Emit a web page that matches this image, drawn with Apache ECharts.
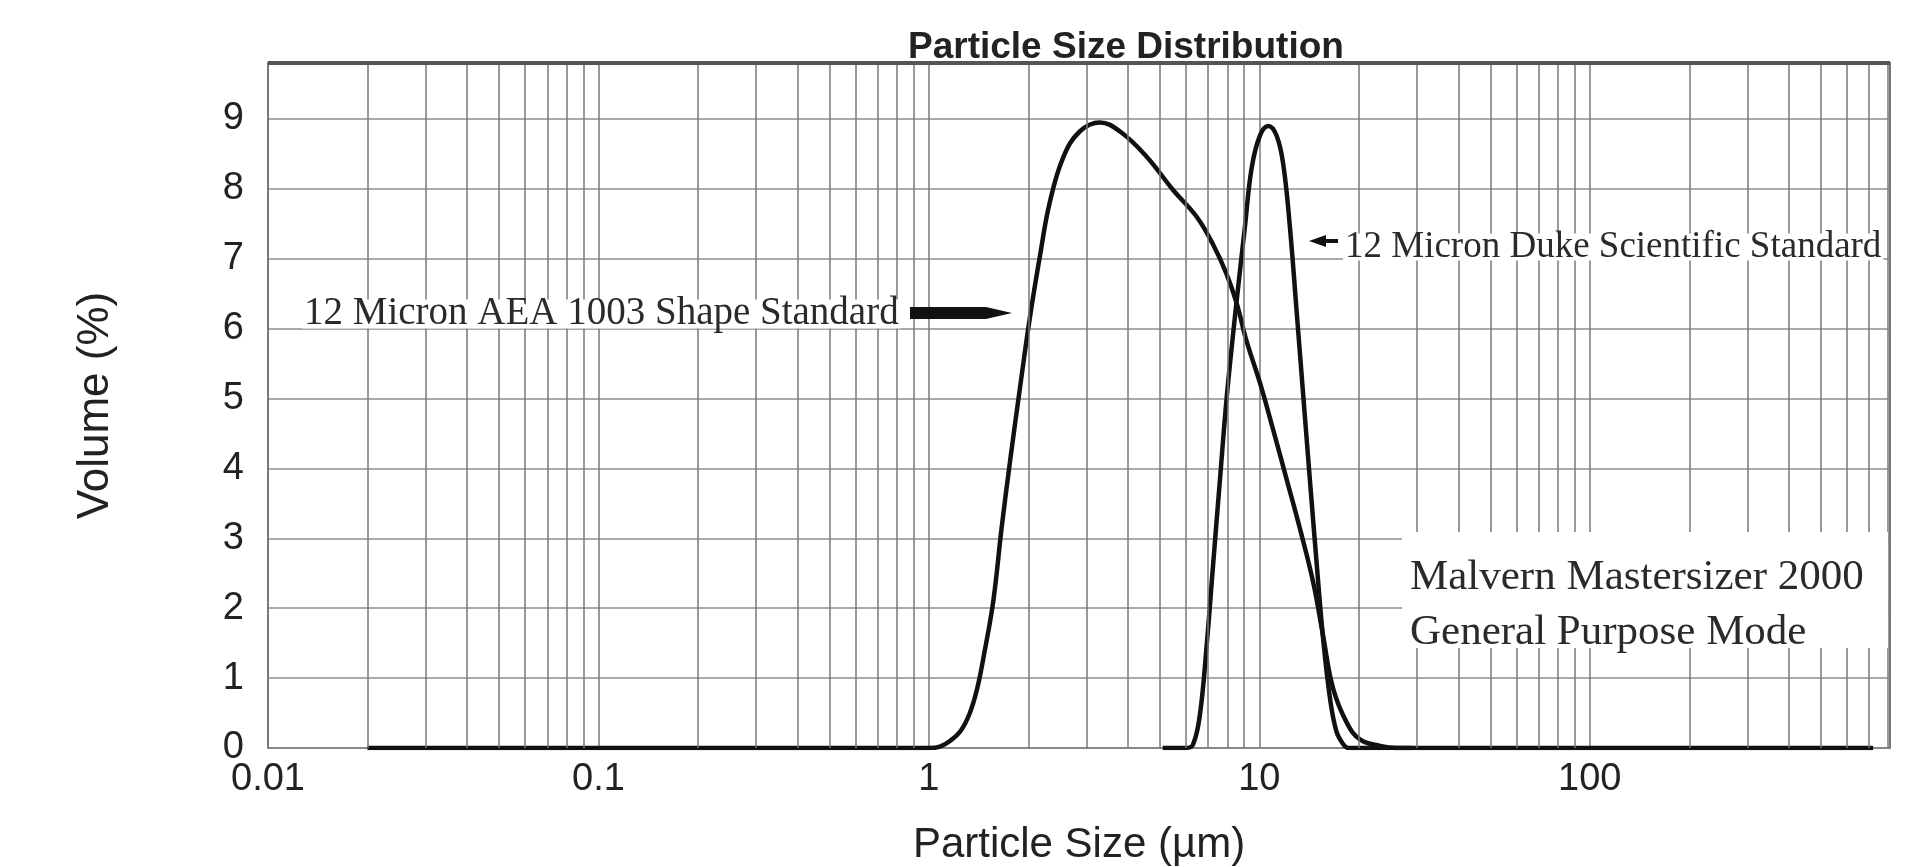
<!DOCTYPE html>
<html>
<head>
<meta charset="utf-8">
<title>Particle Size Distribution</title>
<style>
    html, body { margin: 0; padding: 0; background: #fff; }
    #main { width: 1921px; height: 867px; }
</style>
</head>
<body>
<div id="main"></div>
<script src="https://cdn.jsdelivr.net/npm/echarts@6/dist/echarts.min.js"></script>
<script type="text/javascript">
    // 12 Micron AEA 1003 Shape Standard : size (µm) / volume (%)
    var aeaSize = [0.02, 1.0, 1.08, 1.158, 1.25, 1.33, 1.40, 1.47, 1.566, 1.66, 1.76, 1.886, 2.02, 2.17, 2.32, 2.55, 2.86, 3.29, 3.79, 4.56, 5.49, 6.46, 7.25, 7.96, 8.54, 9.15, 10.05, 11.0, 12.1, 13.3, 14.6, 15.6, 16.7, 18.4, 20.2, 23.2, 26, 720];
    var aeaVol = [0, 0, 0.02, 0.1, 0.25, 0.5, 0.85, 1.35, 2.1, 3.15, 4.1, 5.15, 6.15, 7.05, 7.8, 8.45, 8.82, 8.95, 8.82, 8.46, 7.98, 7.6, 7.2, 6.78, 6.36, 5.82, 5.22, 4.56, 3.84, 3.12, 2.34, 1.6, 0.86, 0.36, 0.12, 0.03, 0, 0];

    // 12 Micron Duke Scientific Standard
    var dukeSize = [5.1, 6.0, 6.3, 6.61, 6.92, 7.25, 7.6, 7.96, 8.34, 8.63, 9.04, 9.48, 10.04, 10.64, 11.28, 11.82, 12.38, 12.97, 13.58, 14.22, 14.91, 15.6, 16.35, 17.1, 17.9, 18.6, 29];
    var dukeVol = [0, 0, 0.05, 0.48, 1.44, 2.64, 3.84, 5.0, 5.95, 6.6, 7.45, 8.3, 8.76, 8.9, 8.76, 8.34, 7.44, 6.24, 5.04, 3.84, 2.64, 1.56, 0.72, 0.24, 0.06, 0, 0];

    // axes
    var xMin = 0.01, xMax = 810;
    var yMin = 0, yMax = 9.8;
    var xDecades = [0.01, 0.1, 1, 10, 100];
    var logSteps = [2, 3, 4, 5, 6, 7, 8, 9];

    var SANS = '"Liberation Sans", Arial, sans-serif';
    var SERIF = '"Liberation Serif", "Times New Roman", serif';
    var INK = '#222';

    function pairs(xs, ys) {
        return xs.map(function (x, i) { return [x, ys[i]]; });
    }

    // log-paper lines 2..9 in every decade
    var minorLines = [];
    xDecades.forEach(function (d) {
        logSteps.forEach(function (s) {
            if (d * s < xMax) minorLines.push({ xAxis: +(d * s).toPrecision(3) });
        });
    });
    // heavy top edge of the paper
    minorLines.push({ yAxis: yMax, lineStyle: { color: '#555', width: 4, type: 'solid' } });

    var myChart = echarts.init(document.getElementById('main'));

    var option = {
        backgroundColor: '#fff',
        animation: false,
        title: {
            text: 'Particle Size Distribution',
            left: 903,
            top: 24,
            textStyle: { fontFamily: SANS, fontSize: 37, fontWeight: 'bold', color: INK }
        },
        grid: {
            left: 268, right: 31, top: 63, bottom: 119,
            containLabel: false,
            outerBoundsMode: 'none',
            show: true, borderColor: '#777', borderWidth: 2
        },
        xAxis: {
            type: 'log',
            logBase: 10,
            min: xMin,
            max: xMax,
            name: 'Particle Size (µm)',
            nameLocation: 'middle',
            nameGap: 76,
            nameTextStyle: { fontFamily: SANS, fontSize: 42, color: INK },
            axisLine: { show: true, lineStyle: { color: '#888', width: 2 } },
            axisTick: { show: false },
            axisLabel: {
                margin: 13,
                fontFamily: SANS, fontSize: 38, color: INK,
                formatter: function (v) {
                    var l = Math.log10(v);
                    return Math.abs(l - Math.round(l)) < 1e-6 ? String(+v.toPrecision(3)) : '';
                }
            },
            splitLine: { show: true, lineStyle: { color: '#777', width: 1.5 } }
        },
        yAxis: {
            type: 'value',
            min: yMin,
            max: yMax,
            interval: 1,
            name: 'Volume (%)',
            nameLocation: 'middle',
            nameGap: 150,
            nameTextStyle: { fontFamily: SANS, fontSize: 44, color: INK },
            axisLine: { show: true, lineStyle: { color: '#777', width: 2 } },
            axisTick: { show: false },
            axisLabel: {
                margin: 24,
                fontFamily: SANS, fontSize: 38, color: INK,
                formatter: function (v) { return v % 1 === 0 ? String(v) : ''; }
            },
            splitLine: { show: true, lineStyle: { color: '#aaa', width: 2 } }
        },
        series: [{
            name: 'paper',
            type: 'line',
            data: [],
            z: 1,
            silent: true,
            markLine: {
                silent: true,
                symbol: 'none',
                label: { show: false },
                emphasis: { disabled: true },
                lineStyle: { color: '#777', width: 1.5, type: 'solid' },
                data: minorLines
            }
        }, {
            name: '12 Micron AEA 1003 Shape Standard',
            type: 'line',
            z: 3,
            data: pairs(aeaSize, aeaVol),
            showSymbol: false,
            smooth: 0.4,
            lineStyle: { color: '#111', width: 4.5 }
        }, {
            name: '12 Micron Duke Scientific Standard',
            type: 'line',
            z: 3,
            data: pairs(dukeSize, dukeVol),
            showSymbol: false,
            smooth: 0.4,
            lineStyle: { color: '#111', width: 4.5 }
        }],
        graphic: [
            // instrument note
            { type: 'rect', z: 10, shape: { x: 1402, y: 532, width: 486, height: 116 }, style: { fill: '#fff' } },
            { type: 'text', z: 11, x: 1410, y: 578, style: { text: 'Malvern Mastersizer 2000', font: '43px ' + SERIF, fill: '#2a2a2a', align: 'left', verticalAlign: 'middle' } },
            { type: 'text', z: 11, x: 1410, y: 633, style: { text: 'General Purpose Mode', font: '43px ' + SERIF, fill: '#2a2a2a', align: 'left', verticalAlign: 'middle' } },
            // curve labels
            { type: 'text', z: 11, x: 302, y: 314, style: { text: '12 Micron AEA 1003 Shape Standard', font: '39px ' + SERIF, fill: '#2a2a2a', align: 'left', verticalAlign: 'middle', backgroundColor: '#fff', padding: [-4, 2, -6, 2] } },
            { type: 'polygon', z: 11, shape: { points: [[910, 307], [986, 307], [1012, 313], [986, 319], [910, 319]] }, style: { fill: '#111' } },
            { type: 'text', z: 11, x: 1343, y: 247, style: { text: '12 Micron Duke Scientific Standard', font: '37px ' + SERIF, fill: '#2a2a2a', align: 'left', verticalAlign: 'middle', backgroundColor: '#fff', padding: [-4, 2, -6, 2] } },
            { type: 'polygon', z: 11, shape: { points: [[1309, 241], [1326, 235], [1326, 239], [1338, 239], [1338, 243], [1326, 243], [1326, 247]] }, style: { fill: '#111' } }
        ]
    };

    myChart.setOption(option);
</script>
</body>
</html>
